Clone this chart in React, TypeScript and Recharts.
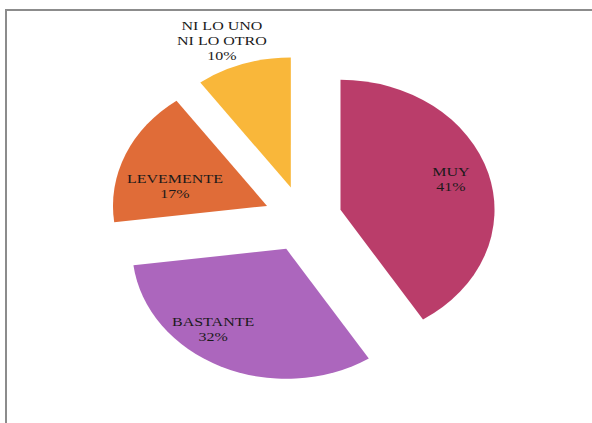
import React from "react";
import { PieChart, Pie, Cell, Sector } from "recharts";

const categories = ["MUY", "BASTANTE", "LEVEMENTE", "NI LO UNO\nNI LO OTRO"];
const shares = [41, 32, 17, 10];
const colors = ["#BA3D6A", "#AC66BD", "#E06C38", "#F9B73A"];

const data = categories.map((name, i) => ({ name, value: shares[i] }));

const RAD = Math.PI / 180;
// distance each slice is pulled away from the centre
const EXPLODE = 33;
// the whole pie is drawn wider than tall
const STRETCH = 1.185;
// label distance (fraction of radius) and angular nudge per slice
const labelPlacement = [
  { r: 0.755, shift: 2.1 },
  { r: 0.78, shift: -12.3 },
  { r: 0.617, shift: 9 },
  { r: 1.218, shift: 3.55 }
];

const FONT = "'Liberation Serif', 'Times New Roman', serif";
const FONT_SIZE = 13.5;
const LINE = 15;
const CAP = 8.8;

const offsetOf = (midAngle: number) => ({
  dx: EXPLODE * Math.cos(-midAngle * RAD),
  dy: EXPLODE * Math.sin(-midAngle * RAD)
});

const ExplodedSector = (props: any) => {
  const { cx, cy, midAngle } = props;
  const { dx, dy } = offsetOf(midAngle);
  return <Sector {...props} cx={cx + dx} cy={cy + dy} stroke="none" />;
};

const renderLabel = (props: any) => {
  const { cx, cy, midAngle, outerRadius, index, name, value } = props;
  const { dx, dy } = offsetOf(midAngle);
  const place = labelPlacement[index];
  const angle = midAngle + place.shift;
  const x = cx + dx + outerRadius * place.r * Math.cos(-angle * RAD);
  const y = cy + dy + outerRadius * place.r * Math.sin(-angle * RAD);
  const lines = [...String(name).split("\n"), `${value}%`];
  const firstBaseline = y - (LINE * (lines.length - 1) + CAP) / 2 + CAP;
  return (
    <text
      x={x}
      y={firstBaseline}
      textAnchor="middle"
      fill="#1a1a1a"
      fontFamily={FONT}
      fontSize={FONT_SIZE}
    >
      {lines.map((line, i) => (
        <tspan key={i} x={x} dy={i === 0 ? 0 : LINE}>
          {line}
        </tspan>
      ))}
    </text>
  );
};

export default function App() {
  return (
    <div
      style={{
        position: "absolute",
        left: 0,
        top: 0,
        width: 592,
        height: 423,
        background: "#ffffff",
        overflow: "hidden"
      }}
    >
      <div
        style={{
          position: "absolute",
          left: 5,
          top: 9,
          width: 620,
          height: 440,
          borderTop: "2px solid #8c8c8c",
          borderLeft: "2px solid #8c8c8c"
        }}
      />
      <div
        style={{
          position: "absolute",
          left: 60,
          top: 0,
          transform: `scaleX(${STRETCH})`,
          transformOrigin: "0 0"
        }}
      >
        <PieChart width={400} height={423}>
          <Pie
            data={data}
            dataKey="value"
            nameKey="name"
            cx={200}
            cy={214}
            outerRadius={130}
            startAngle={90}
            endAngle={-270}
            stroke="none"
            shape={ExplodedSector}
            label={renderLabel}
            labelLine={false}
            isAnimationActive={false}
          >
            {data.map((d, i) => (
              <Cell key={d.name} fill={colors[i]} />
            ))}
          </Pie>
        </PieChart>
      </div>
    </div>
  );
}
